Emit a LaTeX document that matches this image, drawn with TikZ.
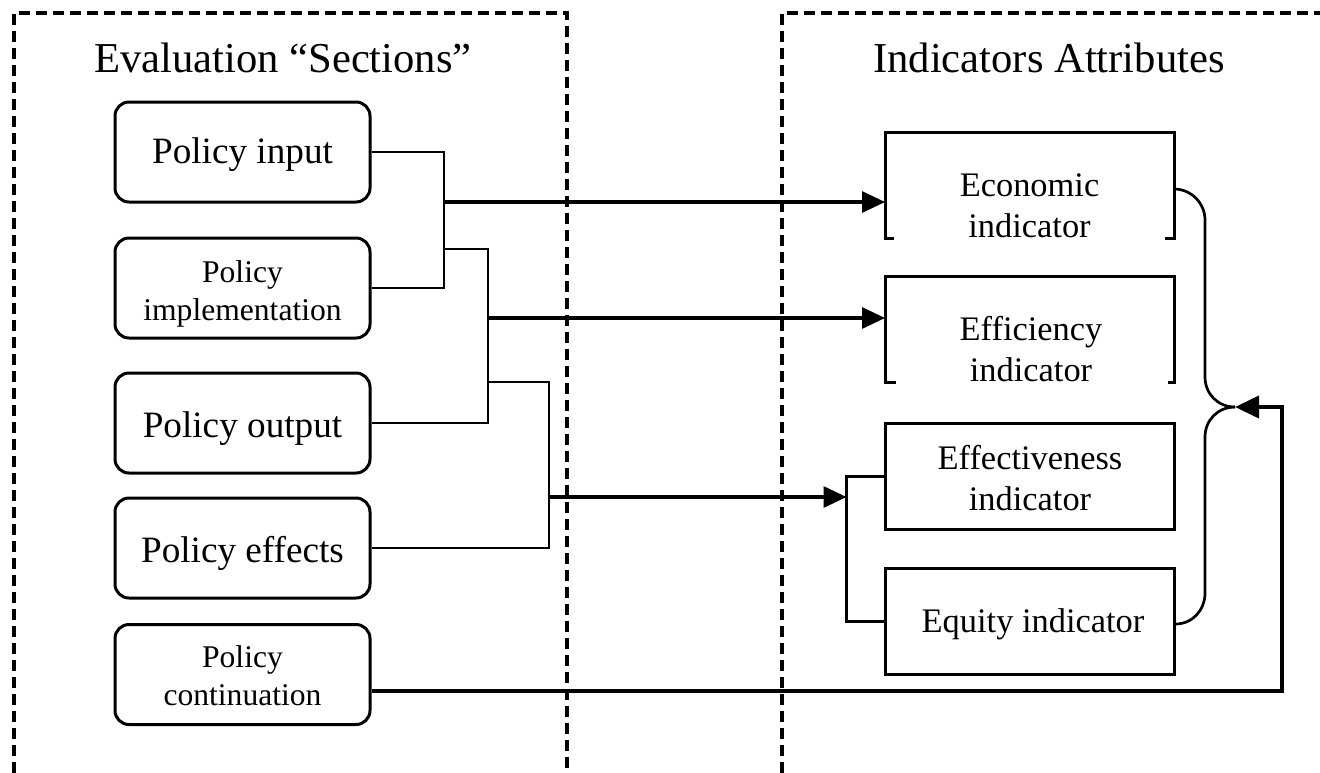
\documentclass[tikz,border=0pt]{standalone}
\usepackage{fontspec}
\setmainfont{Liberation Serif}
\usetikzlibrary{arrows.meta,calc}

\tikzset{
  frame/.style={line width=1.6pt, dash pattern=on 5.5pt off 3pt},
  pbox/.style={draw, rounded corners=7pt, line width=1.5pt,
    minimum width=127.5pt, minimum height=50pt, inner sep=0pt},
  ibox/.style={draw, line width=1.5pt, minimum width=144.5pt,
    minimum height=53pt, inner sep=0pt},
  ishape/.style={minimum width=144.5pt, minimum height=53pt,
    inner sep=0pt, outer sep=0pt},
  iedge/.style={line width=1.5pt, line join=miter},
  titletext/.style={font=\fontsize{21.3}{25}\selectfont, inner sep=0pt, anchor=base},
  ptext/.style={font=\fontsize{18.6}{22}\selectfont, inner sep=0pt, anchor=base},
  stext/.style={font=\fontsize{15.8}{19}\selectfont, align=center, inner sep=0pt, anchor=base},
  itext/.style={font=\fontsize{17.2}{20.5}\selectfont, align=center, inner sep=0pt, anchor=base},
  link/.style={line width=1.35pt},
  arrowline/.style={line width=1.6pt, -{Triangle[length=11.5pt,width=10.5pt]}},
  feed/.style={line width=2pt, -{Triangle[length=12pt,width=11pt]}},
}

\begin{document}
\begin{tikzpicture}[x=0.5pt, y=-0.5pt]
\useasboundingbox (0,0) rectangle (1320,772);

% dashed group frames (open at the page edges)
\draw[frame] (14,790) -- (14,13) -- (567,13) -- (567,790);
\draw[frame] (782,790) -- (782,13) -- (1340,13);

% group headings
\node[titletext] (lefttitle) at (283,72) {Evaluation “Sections”};
\node[titletext] (righttitle) at (1049,72) {Indicators Attributes};

% evaluation sections
\node[pbox] (input)  at (242.5,152) {};
\node[pbox] (impl)   at (242.5,288) {};
\node[pbox] (output) at (242.5,423) {};
\node[pbox] (effects) at (242.5,548) {};
\node[pbox] (cont)   at (242.5,674.5) {};

% (multi-line labels are anchored at the baseline of their last line)
\node[ptext] (input-t)   at (242.5,163) {Policy input};
\node[stext] (impl-t)    at (242.5,320) {Policy\\implementation};
\node[ptext] (output-t)  at (242.5,437) {Policy output};
\node[ptext] (effects-t) at (242.5,562) {Policy effects};
\node[stext] (cont-t)    at (242.5,705) {Policy\\continuation};

% indicator attributes
\node[ishape] (econ) at (1029.5,185) {};
\node[ishape] (effi) at (1029.5,329) {};
\node[ibox] (effe) at (1029.5,476.5) {};
\node[ibox] (equi) at (1029.5,621.5) {};

\draw[iedge] (econ.south west) ++(9,0) -- ++(-9,0) |- (econ.north east)
  -- (econ.south east) -- ++(-9,0);
\draw[iedge] (effi.south west) ++(11,0) -- ++(-11,0) |- (effi.north east)
  -- (effi.south east) -- ++(-6,0);

\node[itext] (econ-t) at (1029.5,237) {Economic\\indicator};
\node[itext] (effi-t) at (1031,381) {Efficiency\\indicator};
\node[itext] (effe-t) at (1030,510) {Effectiveness\\indicator};
\node[itext] (equi-t) at (1033,632) {Equity indicator};

% branch points of the bus lines
\coordinate (a1) at (444,202);
\coordinate (a2) at (444,249);
\coordinate (b1) at (488,318);
\coordinate (b2) at (488,382);
\coordinate (c1) at (549,497);
\coordinate (kb) at ($(effe.west)+(-37,0)$);
\coordinate (m)  at (1235,407);
\coordinate (r)  at (1282,407);

% section groupings
\draw[link] (input.east) -| (a2 |- impl.east) -- (impl.east);
\draw[link] (a2) -| (b1 |- output.east) -- (output.east);
\draw[link] (b2) -| (c1 |- effects.east) -- (effects.east);

% links to indicators
\draw[arrowline] (a1) -- (a1 -| econ.west);
\draw[arrowline] (b1) -- (b1 -| effi.west);
\draw[arrowline] (c1) -- (c1 -| kb);
\draw[link] (effe.west) -- (kb) |- (equi.west);

% feedback from continuation
\draw[feed] ($(cont.east)+(0,16.5)$) -| (r) -- (m);

% curved joins into the feedback point
\draw[link] ($(econ.east)+(0,4)$) .. controls +(17,0) and +(0,-17) .. (1205,220)
  -- (1205,377) .. controls +(0,17) and +(-17,0) .. (m);
\draw[link] ($(equi.east)+(0,2.5)$) .. controls +(17,0) and +(0,17) .. (1205,593)
  -- (1205,437) .. controls +(0,-17) and +(-17,0) .. (m);
\end{tikzpicture}
\end{document}
